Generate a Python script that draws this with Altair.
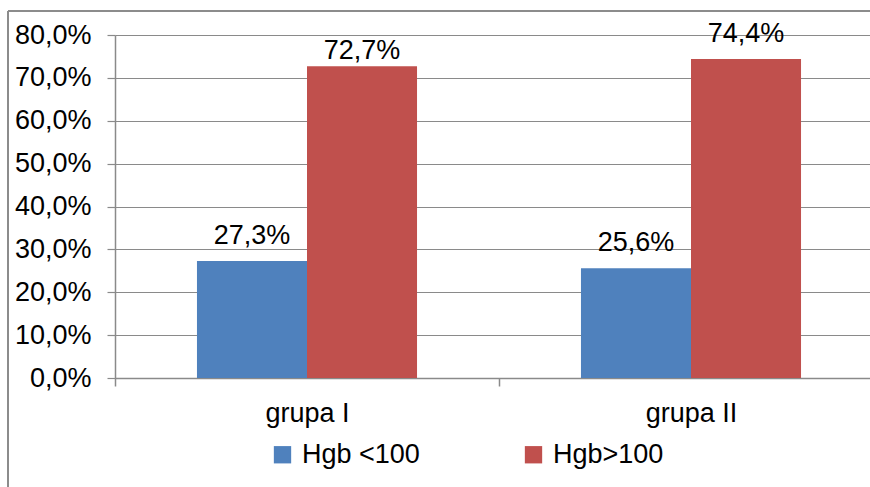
import altair as alt
import pandas as pd

# Share of patients by haemoglobin level in each study group
groups = ["grupa I", "grupa I", "grupa II", "grupa II"]
series = ["Hgb <100", "Hgb>100", "Hgb <100", "Hgb>100"]
values = [27.3, 72.7, 25.6, 74.4]
labels = ["27,3%", "72,7%", "25,6%", "74,4%"]

series_order = ["Hgb <100", "Hgb>100"]
series_colors = ["#4F81BD", "#C0504D"]
group_order = ["grupa I", "grupa II"]

df = pd.DataFrame({
    "grupa": groups,
    "seria": series,
    "wartosc": [v / 100 for v in values],
    "etykieta": labels,
})

FONT = "Liberation Sans"
FS = 27
GRID = "#8a8a8a"

x_enc = alt.X(
    "grupa:N",
    sort=group_order,
    scale=alt.Scale(paddingInner=0, paddingOuter=0),
    axis=alt.Axis(
        title=None, labelAngle=0, tickBand="extent", tickSize=8, grid=False,
        labelPadding=14, labelFontSize=FS, labelFont=FONT, labelColor="#000",
        domainColor=GRID, tickColor=GRID, domainWidth=1.5, tickWidth=1.5,
    ),
)
xoff_enc = alt.XOffset(
    "seria:N", sort=series_order,
    scale=alt.Scale(paddingInner=0, paddingOuter=0.745),
)
y_enc = alt.Y(
    "wartosc:Q",
    scale=alt.Scale(domain=[0, 0.8], nice=False),
    axis=alt.Axis(
        title=None, values=[i / 10 for i in range(9)], format=".1%",
        labelExpr="replace(datum.label, '.', ',')",
        tickSize=8, labelPadding=16, labelFontSize=FS, labelFont=FONT,
        labelColor="#000", grid=True, gridColor=GRID, gridWidth=1.2,
        domainColor=GRID, tickColor=GRID, domainWidth=1.5, tickWidth=1.2,
    ),
)

bars = alt.Chart(df).mark_bar(width={"band": 1}).encode(
    x=x_enc,
    xOffset=xoff_enc,
    y=y_enc,
    color=alt.Color(
        "seria:N",
        sort=series_order,
        scale=alt.Scale(domain=series_order, range=series_colors),
        legend=alt.Legend(
            title=None, orient="none", direction="horizontal",
            legendX=154, legendY=406, padding=0,
            symbolType="square", symbolSize=300, symbolStrokeWidth=0,
            labelFontSize=FS, labelFont=FONT, labelColor="#000",
            labelOffset=6, columnPadding=100,
        ),
    ),
)

# value labels share the bars' scales and axes exactly
text_base = alt.Chart(df).encode(
    x=x_enc,
    xOffset=xoff_enc,
    y=y_enc,
    text="etykieta:N",
)
text_style = dict(font=FONT, fontSize=FS, color="#000", align="center",
                  baseline="alphabetic")
# the 72,7% label sits closer to its bar, below the top gridline
bar_labels = text_base.transform_filter(
    "datum.etykieta != '72,7%'"
).mark_text(dy=-17, **text_style)
bar_labels_low = text_base.transform_filter(
    "datum.etykieta == '72,7%'"
).mark_text(dy=-7, **text_style)

# outer chart frame (left and top edges)
frame_left = alt.Chart(df).mark_rule(color="#8c8c8c", strokeWidth=2).encode(
    x=alt.value(-107), y=alt.value(-24), y2=alt.value(470)
)
frame_top = alt.Chart(df).mark_rule(color="#8c8c8c", strokeWidth=2).encode(
    x=alt.value(-107), x2=alt.value(768), y=alt.value(-24)
)

# the plot area runs past the right edge of the page, as in the source figure
chart = alt.layer(
    bars, bar_labels, bar_labels_low, frame_left, frame_top
).properties(
    width=768, height=343,
    autosize=alt.AutoSizeParams(type="none"),
    padding={"left": 115, "top": 35, "right": -13, "bottom": 109},
    background="white",
).configure_view(stroke="transparent", strokeWidth=0)

chart.save("out.html", embed_options={"renderer": "svg", "actions": False})
